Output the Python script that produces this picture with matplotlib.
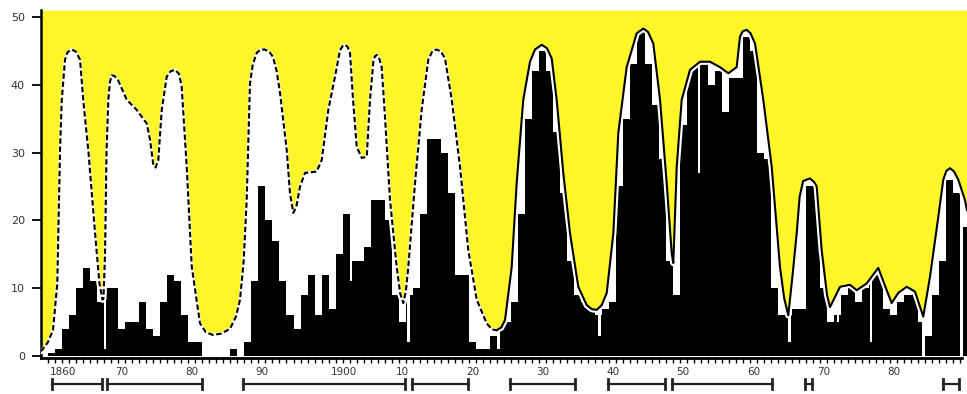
import matplotlib
matplotlib.use("Agg")
import matplotlib.pyplot as plt
from matplotlib.patches import Polygon
import numpy as np

# ---------------- data ----------------
years = list(range(1859, 1991))
counts = [
    0,                                      # 1859
    0.5, 1, 4, 6, 10, 13, 11, 8, 10, 10,    # 1860-1869
    4, 5, 5, 8, 4, 3, 8, 12, 11, 6,         # 1870-1879
    2, 2, 0, 0, 0, 0, 1, 0, 2, 11,          # 1880-1889
    25, 20, 17, 11, 6, 4, 9, 12, 6, 12,     # 1890-1899
    7, 15, 21, 14, 14, 16, 23, 23, 20, 9,   # 1900-1909
    5, 9, 10, 21, 32, 32, 30, 24, 12, 12,   # 1910-1919
    2, 1, 1, 3, 4, 5, 8, 21, 35, 42,        # 1920-1929
    45, 42, 33, 24, 14, 9, 8, 7, 6, 7,      # 1930-1939
    8, 25, 35, 43, 48, 43, 37, 29, 14, 9,   # 1940-1949
    34, 43, 43, 43, 40, 42, 36, 41, 41, 47, # 1950-1959
    45, 30, 29, 10, 6, 6, 7, 7, 25, 25,     # 1960-1969
    10, 5, 6, 9, 10, 8, 10, 12, 12, 7,      # 1970-1979
    6, 8, 9, 9, 5, 3, 9, 14, 26, 24,        # 1980-1989
    19,                                     # 1990
]

env_years = [
    1859.0, 1859.2, 1860.0, 1860.74, 1861.35, 1861.74, 1861.98, 1862.45, 1862.8, 1863.4,
    1864.0, 1864.59, 1865.06, 1865.8, 1866.58, 1866.94, 1867.36, 1867.79, 1867.93, 1868.15,
    1868.36, 1868.62, 1868.85, 1869.1, 1869.5, 1870.0, 1871.24, 1872.66, 1874.09, 1874.56,
    1875.03, 1875.35, 1875.74, 1876.23, 1876.94, 1877.5, 1878.12, 1878.7, 1879.07, 1879.79,
    1880.5, 1881.68, 1882.5, 1883.53, 1884.7, 1885.95, 1886.8, 1887.38, 1887.9, 1888.33,
    1888.8, 1889.2, 1889.76, 1890.3, 1890.94, 1891.6, 1892.08, 1892.6, 1893.08, 1894.03,
    1894.5, 1894.97, 1895.4, 1895.93, 1896.64, 1898.3, 1899.02, 1899.96, 1900.91, 1901.62,
    1902.0, 1902.34, 1902.7, 1903.05, 1903.48, 1904.0, 1904.72, 1905.43, 1905.9, 1906.37,
    1906.6, 1906.85, 1907.15, 1907.56, 1908.03, 1908.75, 1909.7, 1910.2, 1910.64, 1911.0,
    1911.35, 1912.31, 1913.26, 1914.2, 1914.8, 1915.4, 1916.0, 1916.58, 1917.54, 1918.72,
    1919.9, 1921.1, 1922.52, 1923.3, 1923.95, 1924.6, 1925.13, 1926.08, 1926.79, 1927.73,
    1928.69, 1929.4, 1930.36, 1931.1, 1931.78, 1932.49, 1933.43, 1934.39, 1935.57, 1936.77,
    1937.5, 1938.19, 1938.9, 1939.62, 1940.56, 1941.27, 1942.46, 1943.89, 1944.83, 1945.5,
    1946.25, 1947.21, 1948.16, 1948.87, 1949.1, 1949.59, 1950.3, 1951.48, 1952.91, 1954.33,
    1955.75, 1956.94, 1958.13, 1958.6, 1959.0, 1959.56, 1960.1, 1960.74, 1961.92, 1963.12,
    1964.3, 1964.9, 1965.48, 1966.1, 1966.68, 1967.1, 1967.6, 1968.57, 1969.2, 1969.53,
    1970.24, 1971.0, 1971.42, 1972.85, 1974.27, 1975.23, 1976.65, 1978.3, 1979.5, 1980.21,
    1981.15, 1982.35, 1983.53, 1984.71, 1985.67, 1986.85, 1987.56, 1988.0, 1988.52, 1989.1,
    1989.7, 1990.65, 1990.94,
]
env_vals = [
    0.7, 0.9, 2.0, 3.8, 10.7, 30.3, 37.6, 43.7, 44.8, 45.2,
    44.9, 43.7, 37.6, 30.0, 20.0, 15.6, 10.7, 8.3, 8.5, 15.0,
    30.0, 37.8, 40.4, 41.4, 41.3, 40.7, 37.8, 36.3, 34.3, 31.9,
    28.2, 27.8, 28.9, 36.3, 41.2, 42.0, 42.2, 41.6, 39.7, 27.9,
    13.2, 4.8, 3.5, 3.1, 3.3, 4.0, 5.8, 8.3, 14.0, 23.0,
    40.2, 43.0, 44.7, 45.2, 45.2, 44.8, 44.1, 42.0, 38.8, 30.4,
    24.0, 21.1, 22.0, 25.0, 27.0, 27.2, 28.9, 36.3, 41.2, 45.1,
    45.7, 45.9, 45.6, 44.7, 37.8, 30.9, 29.2, 29.4, 37.8, 43.4,
    44.2, 44.4, 44.1, 42.6, 35.3, 23.0, 13.1, 9.2, 7.8, 9.5,
    13.1, 25.5, 36.3, 43.7, 45.0, 45.2, 44.9, 43.9, 37.8, 27.9,
    15.6, 8.3, 4.8, 3.9, 3.8, 4.2, 5.3, 13.1, 25.5, 37.8,
    43.4, 45.2, 45.9, 45.4, 43.9, 37.8, 27.0, 18.1, 10.2, 7.5,
    6.9, 6.8, 7.5, 9.3, 18.1, 32.9, 42.6, 47.6, 48.3, 47.8,
    46.1, 37.8, 25.5, 15.2, 13.7, 27.9, 37.8, 42.2, 43.4, 43.4,
    42.6, 41.7, 42.6, 47.1, 47.9, 48.1, 47.6, 46.1, 37.8, 27.9,
    13.1, 8.5, 6.0, 12.0, 18.1, 23.5, 25.8, 26.2, 25.6, 25.0,
    15.6, 9.0, 7.2, 10.2, 10.5, 9.7, 10.7, 13.0, 9.7, 7.8,
    9.3, 10.2, 9.5, 5.8, 11.7, 20.5, 26.0, 27.3, 27.7, 27.2,
    26.0, 23.0, 21.5,
]
dashed_until = 1923.95   # envelope is dashed before this year, solid after

gap_years = [1868.0, 1903.0, 1911.2, 1924.0, 1938.4, 1952.55, 1965.5, 1972.4, 1977.1, 1984.6, 1990.0]
gap_levels = [1, 11, 2, 1, 3, 27, 2, 5, 2, 0, 0]

bracket_starts = [1860.6, 1868.4, 1887.8, 1911.9, 1925.8, 1939.8, 1948.9, 1967.9, 1987.5]
bracket_ends = [1867.7, 1882.0, 1910.9, 1919.9, 1935.1, 1947.9, 1963.2, 1968.9, 1989.8]

decades = [1860, 1870, 1880, 1890, 1900, 1910, 1920, 1930, 1940, 1950, 1960, 1970, 1980]
decade_labels = ["1860", "70", "80", "90", "1900", "10", "20", "30", "40", "50", "60", "70", "80"]
yticks = [0, 10, 20, 30, 40, 50]

# ---------------- figure ----------------
YELLOW = "#fff62a"
W, H = 967, 394
fig = plt.figure(figsize=(W / 100, H / 100), dpi=100)
ax = fig.add_axes([41 / W, 1 - 358 / H, 926 / W, 348 / H])
XMIN, XMAX = 1859.03, 1990.94
YMIN, YMAX = -0.3, 51.03
ax.set_xlim(XMIN, XMAX)
ax.set_ylim(YMIN, YMAX)

ex = np.array(env_years)
ey = np.array(env_vals)

# yellow above the envelope
ax.fill_between(ex, ey, YMAX, color=YELLOW, lw=0, zorder=1)

# clip region: under the envelope
verts = [(ex[0], YMIN)] + list(zip(ex, ey)) + [(ex[-1], YMIN)]
clip_poly = Polygon(verts, closed=True, transform=ax.transData,
                    facecolor="none", edgecolor="none")
ax.add_patch(clip_poly)

bars = ax.bar(years, counts, width=1.0, align="edge", color="black",
              lw=0, zorder=2)
for b in bars:
    b.set_clip_path(clip_poly)

gaps = ax.bar(gap_years, [YMAX - g for g in gap_levels], bottom=gap_levels,
              width=0.35, align="edge", color="white", lw=0, zorder=2.5)
for b in gaps:
    b.set_clip_path(clip_poly)

# white halo inside the curve
halo, = ax.plot(ex, ey, color="white", lw=4.5, zorder=3, solid_capstyle="round")
halo.set_clip_path(clip_poly)

m1 = ex <= dashed_until
m2 = ex >= dashed_until
ax.plot(ex[m1], ey[m1], color="white", lw=2.0, zorder=3.5)
ax.plot(ex[m1], ey[m1], color="black", lw=1.5, dashes=(2.6, 1.3), zorder=4)
ax.plot(ex[m2], ey[m2], color="black", lw=1.5, zorder=4)

# axes styling
for s in ("top", "right"):
    ax.spines[s].set_visible(False)
ax.spines["left"].set_linewidth(1.8)
ax.spines["bottom"].set_linewidth(2.0)
ax.spines["bottom"].set_bounds(XMIN, 1990.2)
ax.set_yticks(yticks)
ax.set_yticklabels([str(v) for v in yticks])
ax.tick_params(axis="y", direction="out", length=6.5, width=1.3, pad=5,
               labelsize=8, labelcolor="#333333")
ax.set_xticks(list(range(1860, 1991)))
ax.set_xticklabels([])
ax.tick_params(axis="x", direction="out", length=3.5, width=1.0)

xt = ax.get_xaxis_transform()
for d, lab in zip(decades, decade_labels):
    if len(lab) == 4:
        ax.text(d + 0.3, -0.040, lab, transform=xt, ha="left", va="center",
                fontsize=7.5, color="#333333")
    else:
        ax.text(d + 0.5, -0.040, lab, transform=xt, ha="center", va="center",
                fontsize=7.5, color="#333333")

# period brackets
yb = -(384 - 358) / 348
cap = 0.013
for s, e in zip(bracket_starts, bracket_ends):
    ax.plot([s, e], [yb, yb], color="#222222", lw=1.6, transform=xt, clip_on=False)
    for xx in (s, e):
        ax.plot([xx, xx], [yb - cap, yb + cap], color="#222222", lw=2.0,
                transform=xt, clip_on=False)

fig.savefig("out.png", dpi=100)
